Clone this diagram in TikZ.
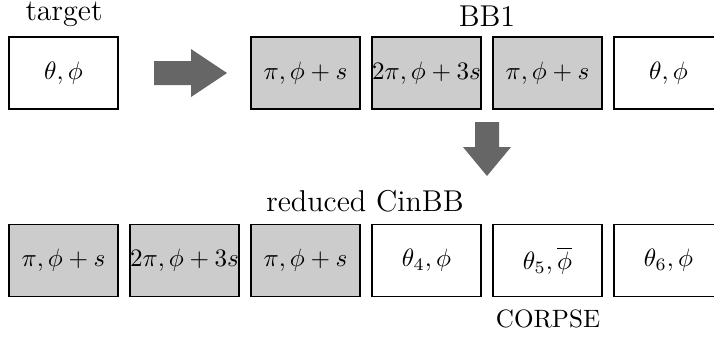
\documentclass[tikz,border=0pt]{standalone}
\begin{document}
\begin{tikzpicture}[x=0.014cm,y=-0.014cm,
  cell/.style={draw=black,line width=0.5pt,minimum width=1.526cm,minimum height=1.008cm,inner sep=0pt,anchor=center},
  grey/.style={cell,fill=black!20},
  white/.style={cell,fill=white},
  lbl/.style={inner sep=0pt,font=\large,anchor=base},
  bigarrow/.style={fill=black!60,draw=none}]
\useasboundingbox (0,0) rectangle (714,337);
\clip (0,0) rectangle (714,337);
% top row
\node[white] (t) at (63.5,73) {$\theta,\phi$};
\node[grey] (b1) at (305.5,73) {$\pi,\phi+s$};
\node[grey] (b2) at (426.5,73) {$2\pi,\phi+3s$};
\node[grey] (b3) at (547.5,73) {$\pi,\phi+s$};
\node[white] (b4) at (668.5,73) {$\theta,\phi$};
% bottom row
\node[grey] (c1) at (63.5,260.5) {$\pi,\phi+s$};
\node[grey] (c2) at (184.5,260.5) {$2\pi,\phi+3s$};
\node[grey] (c3) at (305.5,260.5) {$\pi,\phi+s$};
\node[white] (c4) at (426.5,260.5) {$\theta_4,\phi$};
\node[white] (c5) at (547.5,260.5) {$\theta_5,\overline{\phi}$};
\node[white] (c6) at (668.5,260.5) {$\theta_6,\phi$};
% labels
\node[lbl,anchor=base west] (lt) at (25,20.5) {target};
\node[lbl] (lb) at (487,26) {BB1};
\node[lbl] (lr) at (365,211.7) {reduced CinBB};
\node[inner sep=0pt,anchor=base] (lc) at (548,327) {CORPSE};
% block arrows
\fill[bigarrow] (154,61) -- (191,61) -- (191,49) -- (227,73) -- (191,97) -- (191,85) -- (154,85) -- cycle;
\fill[bigarrow] (475,122) -- (499,122) -- (499,147) -- (511,147) -- (487,176) -- (463,147) -- (475,147) -- cycle;
\end{tikzpicture}
\end{document}
